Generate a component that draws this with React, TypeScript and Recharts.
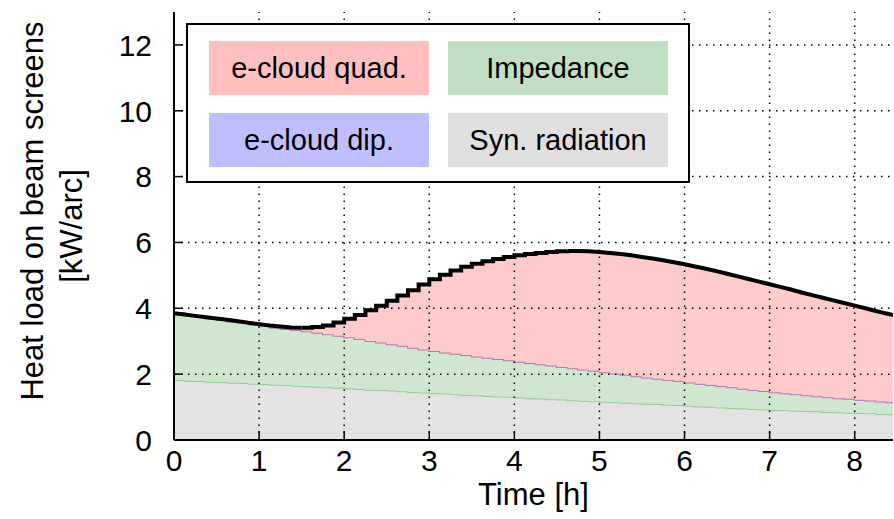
import {
  ComposedChart,
  Area,
  Line,
  XAxis,
  YAxis,
  ReferenceLine,
  Legend,
} from 'recharts';

// sample times [h]
const hours = [
  0, 0.125, 0.25, 0.375, 0.5, 0.625, 0.75, 0.875,
  1, 1.125, 1.25, 1.375, 1.5, 1.625, 1.75, 1.875,
  2, 2.125, 2.25, 2.375, 2.5, 2.625, 2.75, 2.875,
  3, 3.125, 3.25, 3.375, 3.5, 3.625, 3.75, 3.875,
  4, 4.125, 4.25, 4.375, 4.5, 4.625, 4.75, 4.875,
  5, 5.125, 5.25, 5.375, 5.5, 5.625, 5.75, 5.875,
  6, 6.125, 6.25, 6.375, 6.5, 6.625, 6.75, 6.875,
  7, 7.125, 7.25, 7.375, 7.5, 7.625, 7.75, 7.875,
  8, 8.125, 8.25, 8.375, 8.5,
];

// kW/arc
const synRadiation = [
  1.82, 1.80, 1.79, 1.77, 1.76, 1.74, 1.73, 1.71,
  1.70, 1.68, 1.67, 1.65, 1.63, 1.62, 1.60, 1.59,
  1.57, 1.55, 1.53, 1.52, 1.50, 1.48, 1.46, 1.44,
  1.42, 1.41, 1.39, 1.37, 1.36, 1.34, 1.32, 1.31,
  1.29, 1.27, 1.26, 1.24, 1.23, 1.21, 1.19, 1.18,
  1.16, 1.15, 1.13, 1.12, 1.10, 1.09, 1.07, 1.06,
  1.04, 1.02, 1.01, 0.99, 0.97, 0.96, 0.94, 0.93,
  0.91, 0.90, 0.89, 0.88, 0.87, 0.85, 0.84, 0.83,
  0.82, 0.81, 0.79, 0.78, 0.76,
];

const impedance = [
  2.03, 2.00, 1.96, 1.93, 1.89, 1.86, 1.82, 1.80,
  1.76, 1.73, 1.70, 1.67, 1.64, 1.61, 1.58, 1.55,
  1.52, 1.49, 1.45, 1.41, 1.38, 1.35, 1.31, 1.28,
  1.25, 1.22, 1.20, 1.18, 1.15, 1.13, 1.11, 1.08,
  1.06, 1.04, 1.01, 0.99, 0.96, 0.94, 0.92, 0.89,
  0.87, 0.84, 0.82, 0.79, 0.77, 0.74, 0.72, 0.70,
  0.68, 0.66, 0.63, 0.62, 0.60, 0.57, 0.55, 0.53,
  0.51, 0.49, 0.47, 0.45, 0.43, 0.42, 0.40, 0.39,
  0.37, 0.36, 0.35, 0.34, 0.34,
];

const ecloudDip = [
  0, 0, 0, 0, 0, 0, 0, 0,
  0, 0, 0, 0.02, 0.03, 0.03, 0.03, 0.03,
  0.03, 0.03, 0.03, 0.03, 0.03, 0.03, 0.03, 0.03,
  0.03, 0.03, 0.03, 0.03, 0.03, 0.03, 0.03, 0.03,
  0.03, 0.03, 0.03, 0.03, 0.03, 0.03, 0.03, 0.03,
  0.03, 0.03, 0.03, 0.03, 0.03, 0.03, 0.03, 0.03,
  0.03, 0.03, 0.03, 0.03, 0.03, 0.03, 0.03, 0.03,
  0.03, 0.03, 0.03, 0.03, 0.03, 0.03, 0.03, 0.03,
  0.03, 0.03, 0.03, 0.03, 0.03,
];

// total heat load (black line)
const totalLoad = [
  3.85, 3.81, 3.77, 3.73, 3.69, 3.65, 3.61, 3.56,
  3.52, 3.48, 3.45, 3.42, 3.41, 3.43, 3.48, 3.57,
  3.68, 3.80, 3.94, 4.08, 4.23, 4.39, 4.55, 4.72,
  4.88, 5.02, 5.15, 5.26, 5.35, 5.43, 5.50, 5.56,
  5.61, 5.65, 5.68, 5.71, 5.73, 5.74, 5.74, 5.73,
  5.71, 5.68, 5.65, 5.61, 5.56, 5.51, 5.46, 5.40,
  5.34, 5.27, 5.20, 5.13, 5.05, 4.97, 4.89, 4.81,
  4.73, 4.65, 4.57, 4.48, 4.40, 4.32, 4.24, 4.16,
  4.08, 4.00, 3.92, 3.84, 3.77,
];

// the rise of the e-cloud load shows visible steps, the rest is smooth
const rampStart = 1.5;
const rampEnd = 4.625;

const xTicks = [0, 1, 2, 3, 4, 5, 6, 7, 8];
const yTicks = [0, 2, 4, 6, 8, 10, 12];

const legendItems = [
  { name: 'e-cloud quad.', color: '#ffbfbf' },
  { name: 'Impedance', color: '#c3dfc3' },
  { name: 'e-cloud dip.', color: '#bfbfff' },
  { name: 'Syn. radiation', color: '#dfdfdf' },
];

const rows = hours.map((t, i) => {
  const quad = Math.max(0, totalLoad[i] - synRadiation[i] - impedance[i] - ecloudDip[i]);
  const inRamp = t >= rampStart && t <= rampEnd;
  return {
    t,
    syn: synRadiation[i],
    imp: impedance[i],
    dip: ecloudDip[i],
    quad: Math.round(quad * 100) / 100,
    before: t <= rampStart ? totalLoad[i] : null,
    ramp: inRamp ? totalLoad[i] : null,
    after: t >= rampEnd ? totalLoad[i] : null,
  };
});

const FONT = '"Liberation Sans", Arial, Helvetica, sans-serif';
const TICK_LEN = 9;

function BottomTick({ x, y, payload }: any) {
  return (
    <g>
      <line x1={x} x2={x} y1={y} y2={y - TICK_LEN} stroke="#000" strokeWidth={1.5} />
      <text x={x} y={y + 31} textAnchor="middle" fontSize={30} fontFamily={FONT} fill="#000">
        {payload.value}
      </text>
    </g>
  );
}

function TopTick({ x, y }: any) {
  return <line x1={x} x2={x} y1={y} y2={y + TICK_LEN} stroke="#000" strokeWidth={1.5} />;
}

function LeftTick({ x, y, payload }: any) {
  return (
    <g>
      <line x1={x} x2={x + TICK_LEN} y1={y} y2={y} stroke="#000" strokeWidth={1.5} />
      <text x={x - 22} y={y} dy="0.36em" textAnchor="end" fontSize={30} fontFamily={FONT} fill="#000">
        {payload.value}
      </text>
    </g>
  );
}

function RightTick({ x, y }: any) {
  return <line x1={x} x2={x - TICK_LEN} y1={y} y2={y} stroke="#000" strokeWidth={1.5} />;
}

function YTitle({ viewBox }: any) {
  const cy = viewBox.y + viewBox.height / 2;
  const x1 = viewBox.x + 43;
  const x2 = viewBox.x + 82;
  return (
    <g fontFamily={FONT} fontSize={31} fill="#000">
      <text x={x1} y={cy - 15} textAnchor="middle" transform={`rotate(-90, ${x1}, ${cy - 15})`}>
        Heat load on beam screens
      </text>
      <text x={x2} y={cy} textAnchor="middle" transform={`rotate(-90, ${x2}, ${cy})`}>
        [kW/arc]
      </text>
    </g>
  );
}

function XTitle({ viewBox }: any) {
  const cx = viewBox.x + viewBox.width / 2;
  return (
    <text x={cx} y={viewBox.y + 65} textAnchor="middle" fontFamily={FONT} fontSize={31} fill="#000">
      Time [h]
    </text>
  );
}

function LegendBox() {
  return (
    <div
      style={{
        width: 504,
        height: 160,
        boxSizing: 'border-box',
        border: '2px solid #000',
        background: '#fff',
        position: 'relative',
      }}
    >
      {legendItems.map((it, i) => (
        <div
          key={it.name}
          style={{
            position: 'absolute',
            left: i % 2 === 0 ? 21 : 260,
            top: i < 2 ? 16 : 88,
            width: 220,
            height: 54,
            background: it.color,
            display: 'flex',
            alignItems: 'center',
            justifyContent: 'center',
            fontFamily: FONT,
            fontSize: 29,
            color: '#000',
          }}
        >
          {it.name}
        </div>
      ))}
    </div>
  );
}

const gridStyle = { stroke: '#000', strokeWidth: 1.5, strokeDasharray: '1.5 5.5' };
const blackLine = { stroke: '#000', strokeWidth: 4, dot: false, activeDot: false, isAnimationActive: false } as const;

export default function App() {
  return (
    <div style={{ position: 'absolute', left: 0, top: 0, width: 894, height: 519, background: '#fff' }}>
      <ComposedChart width={894} height={519} data={rows} margin={{ top: 12, right: 1, bottom: 0, left: 0 }}>
        <XAxis
          dataKey="t"
          type="number"
          domain={[0, 8.45]}
          allowDataOverflow
          ticks={xTicks}
          interval={0}
          height={79}
          tickSize={0}
          tickMargin={0}
          tickLine={false}
          tick={<BottomTick />}
          axisLine={{ stroke: '#000', strokeWidth: 2 }}
          label={<XTitle />}
        />
        <XAxis
          xAxisId="top"
          orientation="top"
          dataKey="t"
          type="number"
          domain={[0, 8.45]}
          allowDataOverflow
          ticks={xTicks}
          interval={0}
          height={0}
          tickSize={0}
          tickMargin={0}
          tickLine={false}
          tick={<TopTick />}
          axisLine={{ stroke: '#000', strokeWidth: 2 }}
        />
        <YAxis
          type="number"
          domain={[0, 13]}
          allowDataOverflow
          ticks={yTicks}
          interval={0}
          width={174}
          tickSize={0}
          tickMargin={0}
          tickLine={false}
          tick={<LeftTick />}
          axisLine={{ stroke: '#000', strokeWidth: 2 }}
          label={<YTitle />}
        />
        <YAxis
          yAxisId="right"
          orientation="right"
          type="number"
          domain={[0, 13]}
          allowDataOverflow
          ticks={yTicks}
          interval={0}
          width={0}
          tickSize={0}
          tickMargin={0}
          tickLine={false}
          tick={<RightTick />}
          axisLine={{ stroke: '#000', strokeWidth: 2 }}
        />
        <Area type="stepAfter" dataKey="syn" stackId="1" fill="#e3e3e3" fillOpacity={1} stroke="#96c996" strokeWidth={2} isAnimationActive={false} />
        <Area type="stepAfter" dataKey="imp" stackId="1" fill="#cfe6cf" fillOpacity={1} stroke="none" isAnimationActive={false} />
        <Area type="stepAfter" dataKey="dip" stackId="1" fill="#bfbfff" fillOpacity={1} stroke="#b27ab0" strokeWidth={2} isAnimationActive={false} />
        <Area type="stepAfter" dataKey="quad" stackId="1" fill="#ffcaca" fillOpacity={1} stroke="none" isAnimationActive={false} />
        {xTicks.slice(1).map((v) => (
          <ReferenceLine key={'x' + v} x={v} {...gridStyle} />
        ))}
        {yTicks.slice(1).map((v) => (
          <ReferenceLine key={'y' + v} y={v} {...gridStyle} />
        ))}
        <Line type="linear" dataKey="before" {...blackLine} />
        <Line type="stepAfter" dataKey="ramp" {...blackLine} />
        <Line type="linear" dataKey="after" {...blackLine} />
        <Legend
          layout="vertical"
          align="center"
          verticalAlign="middle"
          content={<LegendBox />}
          wrapperStyle={{ left: 186, top: 23, width: 504, height: 160 }}
        />
      </ComposedChart>
    </div>
  );
}
